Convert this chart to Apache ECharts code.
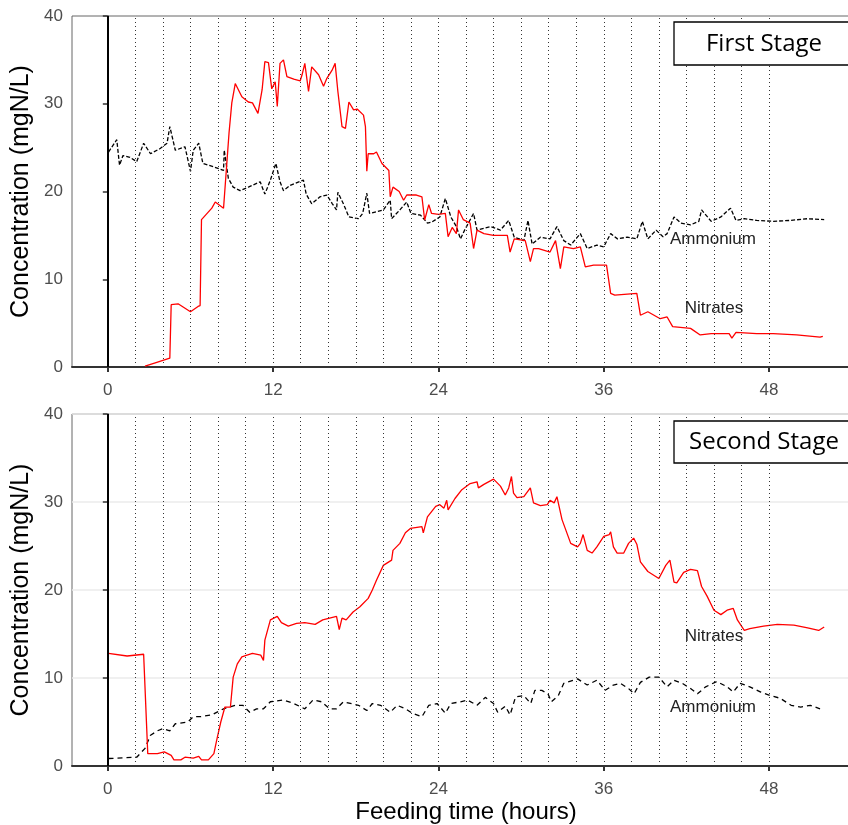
<!DOCTYPE html>
<html>
<head>
<meta charset="utf-8">
<script src="https://cdn.jsdelivr.net/npm/echarts@6/dist/echarts.min.js"></script>
<style>
  html, body { margin: 0; padding: 0; background: #fff; }
  #main { width: 848px; height: 825px; }
</style>
</head>
<body>
<div id="main"></div>
<script>
// hours of the vertical dotted feeding marks
var feedHours = [2, 4, 6, 8, 10, 12, 14, 16, 18, 20, 22, 24, 26, 28, 30, 32, 34, 36, 38, 40, 42, 44, 46, 48];
var xTicks = [0, 12, 24, 36, 48];

// first stage, [hour, mgN/L]
var nitFirst = [[2.7,0.1],[3.5,0.5],[4.5,1.0],[4.6,7.1],[5.1,7.2],[6.0,6.3],[6.55,6.9],[6.7,7.0],[6.8,16.8],[7.55,18.1],[7.8,18.8],[8.4,18.1],[8.8,26.7],[9.0,30.1],[9.25,32.3],[9.73,30.8],[10.2,30.2],[10.5,30.1],[10.9,28.9],[11.2,31.6],[11.4,34.8],[11.66,34.7],[11.9,31.7],[12.15,32.5],[12.3,29.7],[12.5,34.6],[12.75,35.0],[13.0,33.1],[13.5,32.8],[13.96,32.6],[14.1,33.3],[14.3,34.6],[14.57,31.4],[14.8,34.2],[15.3,33.3],[15.66,32.0],[15.9,32.9],[16.27,33.8],[16.5,34.6],[16.7,31.4],[17.0,27.4],[17.25,27.2],[17.5,30.2],[17.84,29.3],[18.1,29.4],[18.56,28.7],[18.7,27.4],[18.8,22.3],[18.9,24.3],[19.3,24.3],[19.5,24.5],[19.9,23.2],[20.4,22.4],[20.5,19.4],[20.7,20.5],[21.15,20.0],[21.47,19.0],[21.7,19.6],[22.4,19.6],[22.8,19.4],[23.0,16.75],[23.3,18.5],[23.5,17.5],[24.0,17.4],[24.5,17.5],[24.7,14.85],[25.0,15.9],[25.3,15.2],[25.46,17.9],[25.8,16.8],[26.3,16.4],[26.55,13.5],[26.8,15.6],[27.3,15.2],[28.0,15.0],[29.0,15.0],[29.2,13.1],[29.5,14.6],[30.3,14.4],[30.67,12.0],[30.9,13.5],[31.27,13.5],[32.1,13.1],[32.5,14.4],[32.85,11.2],[33.1,13.7],[33.8,13.5],[34.3,13.7],[34.66,11.4],[35.26,11.6],[36.2,11.6],[36.5,8.4],[36.8,8.2],[38.4,8.4],[38.66,5.9],[39.2,6.3],[40.1,5.5],[40.6,5.7],[41.0,4.6],[42.3,4.4],[43.0,3.65],[43.8,3.8],[45.1,3.8],[45.3,3.3],[45.6,3.95],[47.1,3.8],[48.3,3.8],[50.0,3.65],[51.7,3.4],[51.9,3.5]];
var ammFirst = [[0.05,24.5],[0.65,25.9],[0.85,23.0],[1.1,24.1],[1.6,23.9],[2.1,23.4],[2.6,25.5],[3.1,24.3],[3.8,24.9],[4.3,25.5],[4.5,27.4],[4.9,24.7],[5.6,25.1],[6.0,22.3],[6.2,24.7],[6.6,25.5],[6.9,23.2],[7.7,22.8],[8.4,22.4],[8.45,24.7],[8.75,21.5],[9.1,20.5],[9.6,20.1],[10.2,20.5],[11.06,21.1],[11.4,19.7],[11.8,21.3],[12.2,23.2],[12.5,21.1],[12.75,20.1],[13.24,20.7],[14.2,21.3],[14.4,19.7],[14.8,18.6],[15.4,19.4],[15.9,19.6],[16.3,18.6],[16.6,17.9],[16.7,19.9],[17.1,18.6],[17.5,17.1],[18.2,16.9],[18.5,17.5],[18.8,19.8],[19.0,17.5],[20.0,17.9],[20.5,19.0],[20.6,16.9],[21.2,17.9],[21.7,18.8],[22.0,17.5],[22.7,17.3],[23.2,16.4],[23.5,16.5],[24.1,17.1],[24.5,19.2],[24.9,17.1],[25.3,16.0],[25.6,14.6],[25.9,15.6],[26.55,17.5],[26.8,15.6],[27.8,16.0],[28.5,15.6],[29.1,16.7],[29.5,14.8],[30.2,14.4],[30.5,16.7],[30.8,14.0],[31.4,14.8],[32.1,14.6],[32.6,16.0],[33.1,14.4],[33.6,13.9],[34.3,15.2],[34.8,13.5],[35.5,13.9],[36.0,13.7],[36.5,15.2],[37.0,14.6],[37.7,14.8],[38.4,14.6],[38.8,16.6],[39.2,14.6],[39.8,15.6],[40.3,14.85],[40.6,15.2],[41.1,17.1],[41.6,16.4],[42.3,16.2],[42.9,16.6],[43.1,17.9],[43.8,16.6],[44.5,17.1],[45.2,18.1],[45.6,16.7],[46.2,16.9],[47.1,16.7],[48.3,16.6],[49.5,16.7],[50.8,16.9],[52.0,16.8]];

// second stage
var nitSecond = [[0.05,12.8],[1.4,12.5],[2.6,12.7],[2.7,12.7],[2.9,1.4],[3.6,1.4],[4.1,1.6],[4.6,1.2],[4.8,0.7],[5.3,0.7],[5.6,1.0],[6.2,0.9],[6.6,1.1],[6.8,0.7],[7.3,0.7],[7.7,1.4],[7.9,2.9],[8.2,5.0],[8.5,6.7],[8.9,6.7],[9.1,10.1],[9.4,11.6],[9.73,12.4],[10.1,12.6],[10.5,12.8],[11.1,12.6],[11.3,12.0],[11.4,14.3],[11.8,16.6],[12.3,17.0],[12.6,16.3],[13.1,15.9],[13.7,16.2],[14.3,16.3],[15.05,16.1],[15.6,16.6],[16.6,17.0],[16.8,15.5],[17.0,16.8],[17.3,16.6],[17.8,17.5],[18.3,18.1],[18.9,19.05],[19.2,20.0],[19.5,21.1],[20.0,22.8],[20.6,23.4],[20.7,24.5],[21.2,25.3],[21.6,26.5],[21.96,27.0],[22.8,27.2],[22.9,26.5],[23.2,28.3],[23.8,29.5],[24.1,29.7],[24.4,29.3],[24.6,30.2],[24.7,29.1],[25.2,30.4],[25.7,31.4],[26.3,32.1],[26.8,32.3],[26.9,31.6],[27.3,32.0],[28.0,32.6],[28.5,31.8],[28.85,30.8],[29.1,31.6],[29.3,32.9],[29.45,31.0],[29.7,30.5],[30.2,30.6],[30.67,31.6],[30.9,29.9],[31.4,29.6],[31.9,29.7],[32.1,30.2],[32.4,29.9],[32.6,30.6],[32.97,28.0],[33.6,25.3],[34.1,24.9],[34.3,25.3],[34.5,26.3],[34.8,24.5],[35.15,24.2],[35.5,24.9],[36.0,26.1],[36.4,26.3],[36.5,26.6],[36.7,24.9],[36.97,24.2],[37.45,24.2],[37.8,25.3],[38.17,25.9],[38.4,25.2],[38.66,23.2],[39.2,22.1],[40.0,21.3],[40.5,22.8],[40.8,23.4],[41.1,20.9],[41.3,20.8],[41.8,22.0],[42.3,22.35],[42.8,22.2],[43.1,20.4],[43.5,19.3],[44.0,17.7],[44.5,17.2],[44.95,17.7],[45.4,17.9],[45.7,16.6],[46.2,15.4],[46.6,15.6],[47.6,15.9],[48.6,16.1],[49.8,16.0],[50.8,15.7],[51.6,15.4],[52.0,15.8]];
var ammSecond = [[0.05,0.85],[2.1,1.0],[2.7,2.0],[3.1,3.5],[3.6,4.0],[4.0,4.25],[4.5,4.0],[4.9,4.8],[5.8,5.0],[6.2,5.6],[6.7,5.6],[7.55,5.8],[7.9,6.1],[8.4,6.5],[9.25,6.9],[9.8,6.9],[10.3,6.1],[10.8,6.5],[11.3,6.5],[11.8,7.3],[12.75,7.5],[13.5,7.1],[14.3,6.5],[14.9,7.5],[15.5,7.3],[16.1,6.5],[16.6,6.5],[17.1,7.3],[18.2,6.9],[18.8,6.3],[19.2,7.1],[19.8,6.9],[20.5,6.1],[21.0,6.9],[21.6,6.5],[22.1,6.0],[22.8,5.6],[23.3,6.9],[23.9,7.1],[24.5,6.0],[24.9,7.1],[25.6,7.3],[26.1,7.5],[26.8,6.9],[27.4,7.8],[28.0,7.1],[28.3,6.1],[28.85,6.8],[29.2,5.8],[29.6,7.85],[30.2,8.0],[30.7,7.1],[31.0,8.6],[31.5,8.6],[31.95,8.2],[32.2,7.3],[32.7,8.0],[33.1,9.4],[34.1,9.9],[34.8,9.2],[35.5,9.75],[36.1,8.6],[36.7,9.2],[37.2,9.4],[37.8,8.8],[38.2,8.2],[38.66,9.5],[39.3,10.1],[40.0,10.1],[40.6,9.0],[41.1,9.75],[41.7,9.4],[42.3,8.8],[42.8,8.2],[43.4,9.0],[44.2,9.6],[44.95,9.0],[45.4,8.4],[45.9,9.4],[46.6,9.0],[47.4,8.4],[48.1,8.0],[48.8,7.7],[49.6,6.9],[50.3,6.7],[51.0,6.9],[51.7,6.5]];

var font = 'Liberation Sans';
var tickGrey = '#4d4d4d';

function xAxisCfg(idx, withName) {
  return {
    type: 'value', gridIndex: idx, min: -2.6, max: 54.6,
    axisLine: { lineStyle: { color: '#333', width: 2 } },
    axisTick: { customValues: xTicks, length: 5, lineStyle: { color: '#333', width: 2 } },
    axisLabel: { customValues: xTicks, color: tickGrey, fontSize: 17, fontFamily: font, margin: 15 },
    splitLine: { show: false },
    name: withName ? 'Feeding time (hours)' : '',
    nameLocation: 'middle', nameGap: 34,
    nameTextStyle: { color: '#000', fontSize: 24, fontFamily: font }
  };
}
function yAxisCfg(idx, grid) {
  return {
    type: 'value', gridIndex: idx, min: 0, max: 40, interval: 10,
    axisLine: { show: true, lineStyle: { color: '#444', width: 1 } },
    axisTick: { show: true, length: 5, lineStyle: { color: '#333', width: 1.5 } },
    axisLabel: { color: tickGrey, fontSize: 17, fontFamily: font, margin: 9 },
    splitLine: { show: grid, lineStyle: { color: '#ebebeb', width: 1.5 } },
    name: 'Concentration (mgN/L)', nameLocation: 'middle', nameGap: 38,
    nameTextStyle: { color: '#000', fontSize: 25, fontFamily: font }
  };
}
function marks() {
  var d = feedHours.map(function (h) { return { xAxis: h }; });
  d.push({ xAxis: 0, lineStyle: { type: 'solid', color: '#000', width: 2 } });
  return {
    silent: true, symbol: 'none', label: { show: false },
    lineStyle: { type: [1, 3], color: '#333', width: 1 },
    data: d
  };
}
function line(idx, data, color, dash, ml) {
  var s = {
    type: 'line', xAxisIndex: idx, yAxisIndex: idx, data: data,
    showSymbol: false, symbol: 'none', animation: false,
    lineStyle: { color: color, width: 1.3, type: dash }
  };
  if (ml) s.markLine = marks();
  return s;
}

var chart = echarts.init(document.getElementById('main'));
chart.setOption({
  animation: false,
  grid: [
    { left: 72, width: 788, top: 16, height: 351, outerBoundsMode: 'none', show: true, borderColor: '#666', borderWidth: 1 },
    { left: 72, width: 788, top: 414, height: 352, outerBoundsMode: 'none', show: true, borderColor: '#666', borderWidth: 1 }
  ],
  xAxis: [xAxisCfg(0, false), xAxisCfg(1, true)],
  yAxis: [yAxisCfg(0, false), yAxisCfg(1, true)],
  series: [
    line(0, ammFirst, '#000', [4, 2], true),
    line(0, nitFirst, '#ff0000', 'solid', false),
    line(1, ammSecond, '#000', [5, 4], true),
    line(1, nitSecond, '#ff0000', 'solid', false)
  ],
  graphic: [
    { type: 'rect', shape: { x: 674, y: 22, width: 190, height: 43 }, style: { fill: '#fff', stroke: '#000', lineWidth: 1.3 }, z: 10 },
    { type: 'text', x: 764, y: 44, z: 11, style: { text: 'First Stage', font: '24px "Open Sans"', fill: '#000', align: 'center', verticalAlign: 'middle' } },
    { type: 'rect', shape: { x: 674, y: 421, width: 190, height: 42 }, style: { fill: '#fff', stroke: '#000', lineWidth: 1.3 }, z: 10 },
    { type: 'text', x: 764, y: 442, z: 11, style: { text: 'Second Stage', font: '24px "Open Sans"', fill: '#000', align: 'center', verticalAlign: 'middle' } },
    { type: 'text', x: 713, y: 239, z: 11, style: { text: 'Ammonium', font: '17px "Liberation Sans"', fill: '#222', align: 'center', verticalAlign: 'middle' } },
    { type: 'text', x: 714, y: 308, z: 11, style: { text: 'Nitrates', font: '17px "Liberation Sans"', fill: '#222', align: 'center', verticalAlign: 'middle' } },
    { type: 'text', x: 714, y: 636, z: 11, style: { text: 'Nitrates', font: '17px "Liberation Sans"', fill: '#222', align: 'center', verticalAlign: 'middle' } },
    { type: 'text', x: 713, y: 707, z: 11, style: { text: 'Ammonium', font: '17px "Liberation Sans"', fill: '#222', align: 'center', verticalAlign: 'middle' } }
  ]
});
</script>
</body>
</html>
